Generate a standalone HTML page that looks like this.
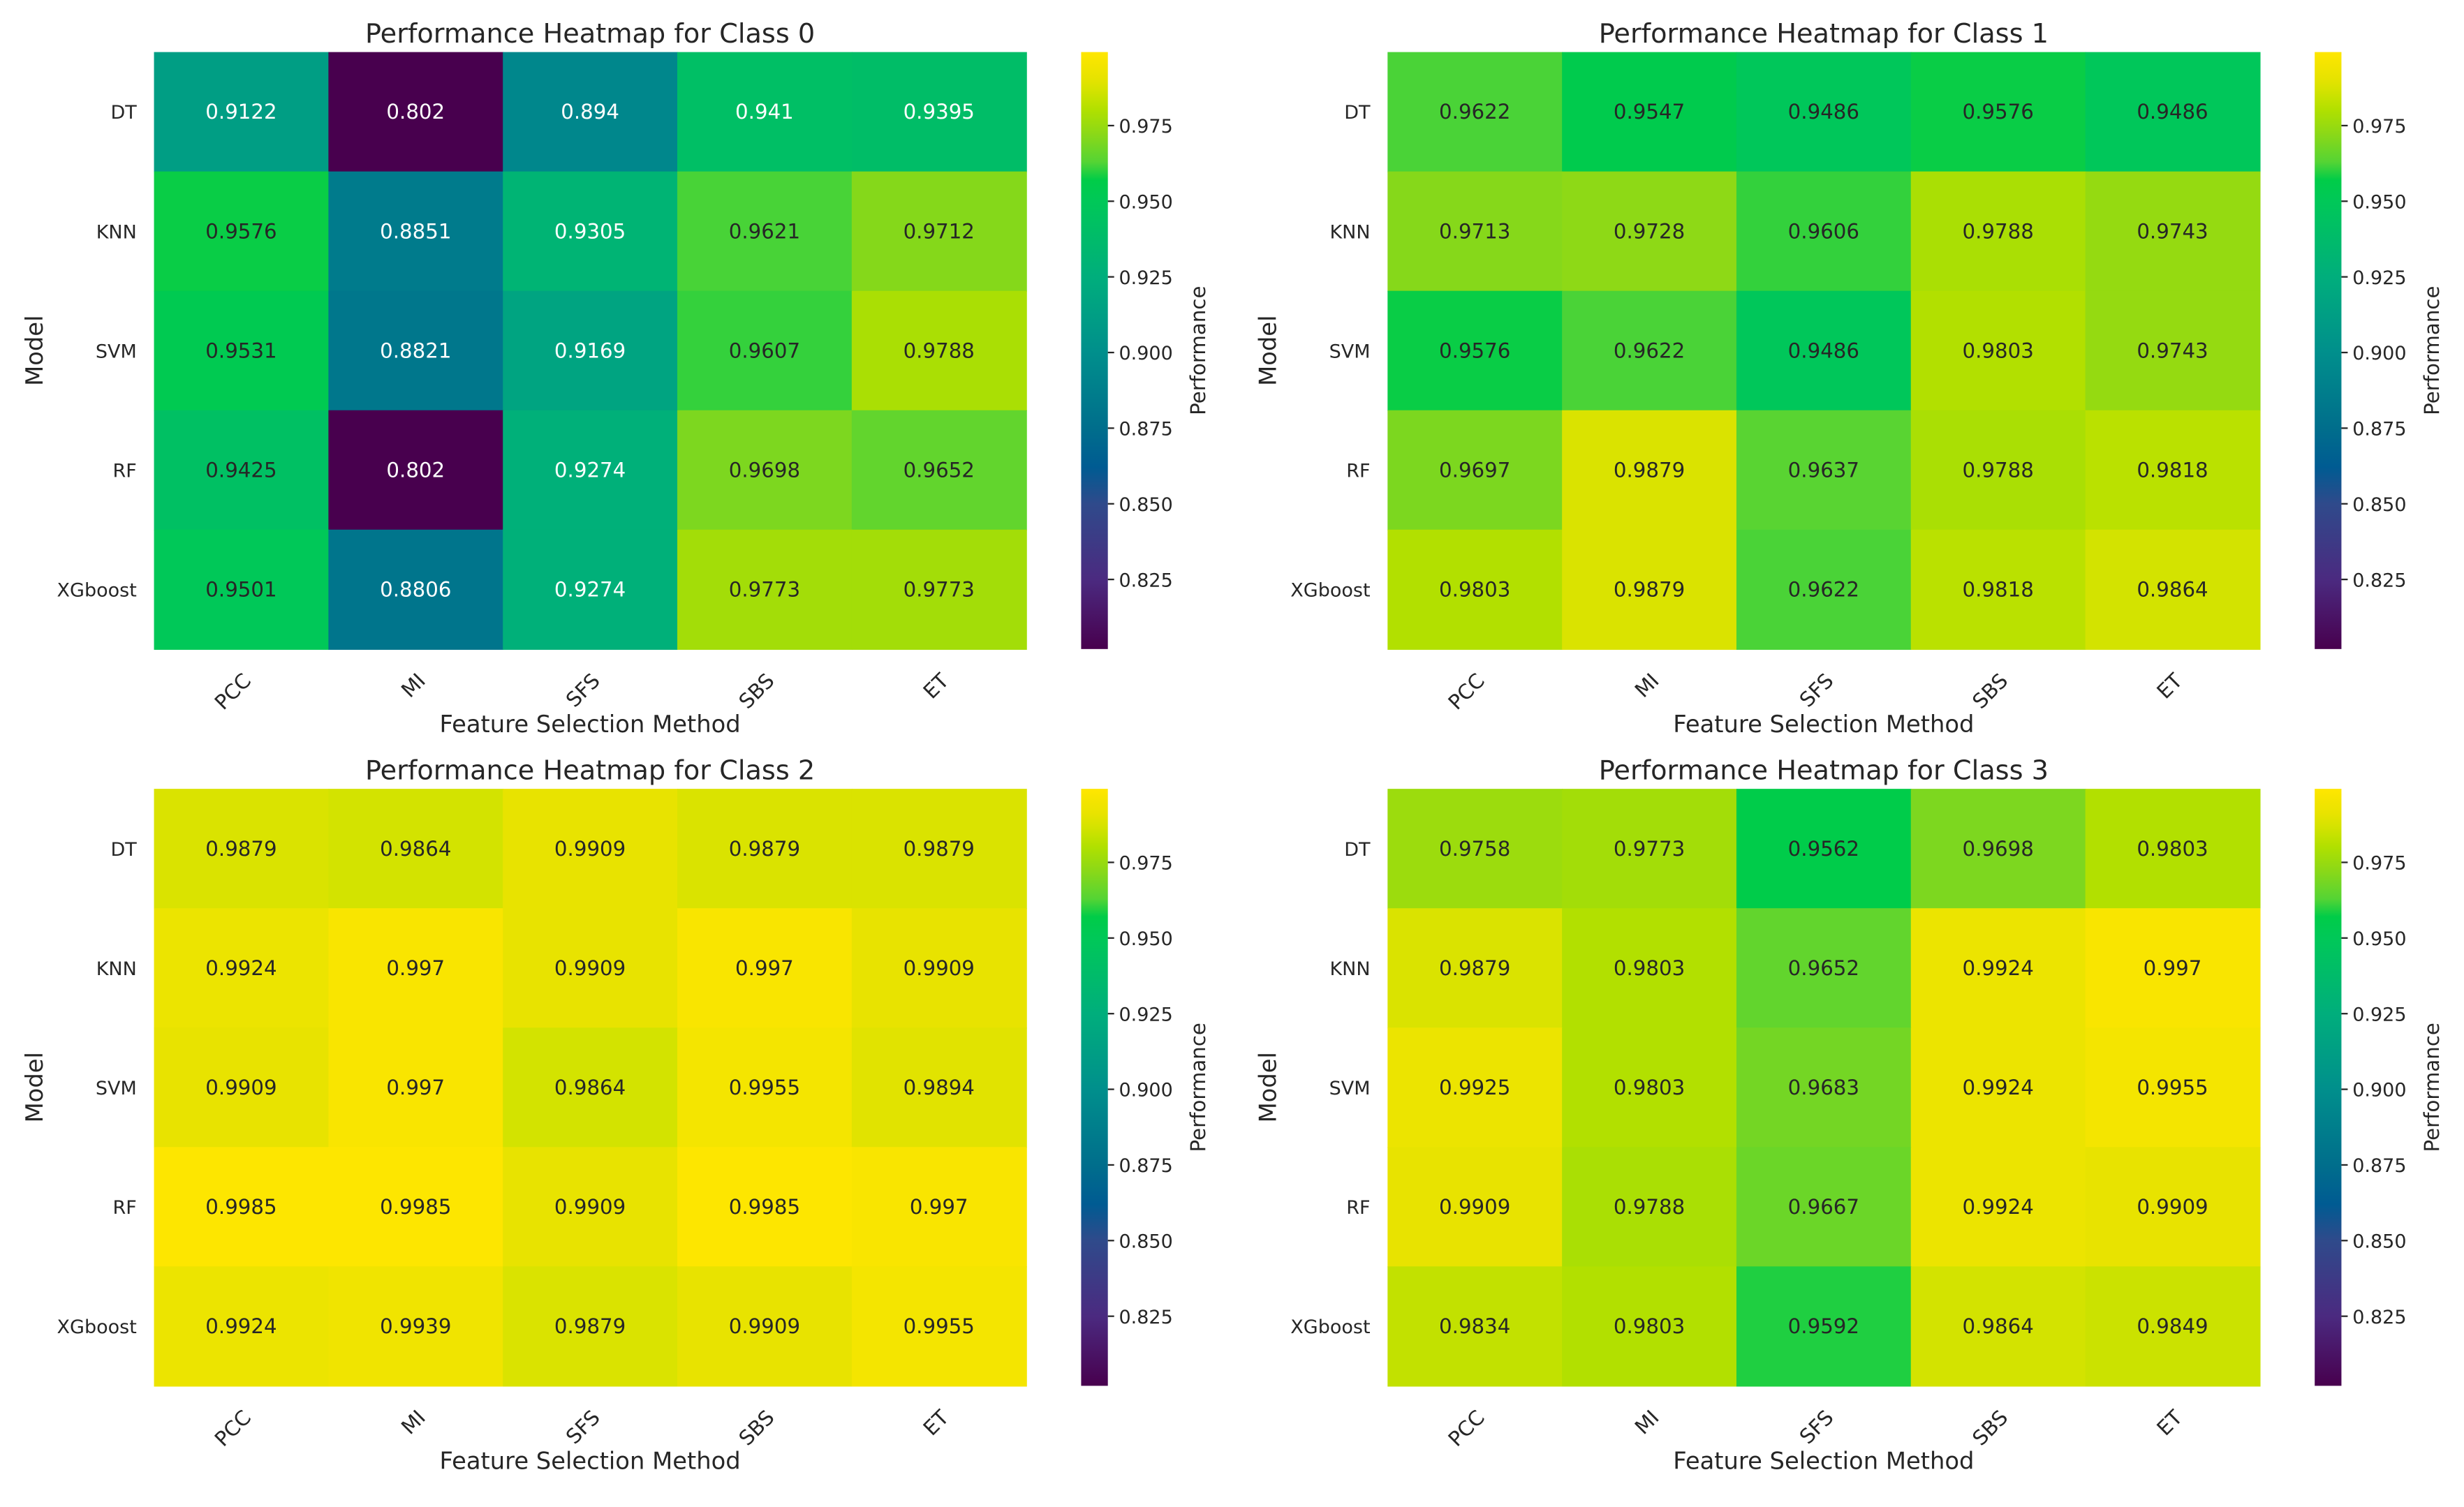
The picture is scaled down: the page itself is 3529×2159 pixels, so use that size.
<!DOCTYPE html>
<html><head><meta charset="utf-8"><style>
html,body{margin:0;padding:0;background:#fff;}
svg{display:block;font-family:"DejaVu Sans","Liberation Sans",sans-serif;}
</style></head><body>
<svg id="fig" width="3529" height="2159" viewBox="0 0 1568 959" xmlns="http://www.w3.org/2000/svg">
<defs id="defs"></defs>
</svg>
<script>
const models = ["DT","KNN","SVM","RF","XGboost"];
const methods = ["PCC","MI","SFS","SBS","ET"];
const class0 = [[0.9122,0.802,0.894,0.941,0.9395],[0.9576,0.8851,0.9305,0.9621,0.9712],[0.9531,0.8821,0.9169,0.9607,0.9788],[0.9425,0.802,0.9274,0.9698,0.9652],[0.9501,0.8806,0.9274,0.9773,0.9773]];
const class1 = [[0.9622,0.9547,0.9486,0.9576,0.9486],[0.9713,0.9728,0.9606,0.9788,0.9743],[0.9576,0.9622,0.9486,0.9803,0.9743],[0.9697,0.9879,0.9637,0.9788,0.9818],[0.9803,0.9879,0.9622,0.9818,0.9864]];
const class2 = [[0.9879,0.9864,0.9909,0.9879,0.9879],[0.9924,0.997,0.9909,0.997,0.9909],[0.9909,0.997,0.9864,0.9955,0.9894],[0.9985,0.9985,0.9909,0.9985,0.997],[0.9924,0.9939,0.9879,0.9909,0.9955]];
const class3 = [[0.9758,0.9773,0.9562,0.9698,0.9803],[0.9879,0.9803,0.9652,0.9924,0.997],[0.9925,0.9803,0.9683,0.9924,0.9955],[0.9909,0.9788,0.9667,0.9924,0.9909],[0.9834,0.9803,0.9592,0.9864,0.9849]];
const classTitles = ["Performance Heatmap for Class 0","Performance Heatmap for Class 1","Performance Heatmap for Class 2","Performance Heatmap for Class 3"];
const cbarTicks = [0.975,0.95,0.925,0.9,0.875,0.85,0.825];
const cbarTickLabels = ["0.975","0.950","0.925","0.900","0.875","0.850","0.825"];
const vmin = 0.802, vmax = 0.9993;

const stopV = [0.802,0.825,0.85,0.862,0.875,0.9,0.925,0.95,0.957,0.963,0.972,0.98,0.987,0.991,0.9993];
const stopC = ["#48004e","#4b2a80","#2f4a8b","#005b92","#006e8c","#008f8c","#00ae7c","#00c858","#00cc48","#55d434","#8ad818","#b0e000","#d6e300","#e8e300","#ffe600"];
function hex(c){return [1,3,5].map(i=>parseInt(c.substr(i,2),16));}
function color(v){
  if(v<=stopV[0]) return stopC[0];
  for(let i=1;i<stopV.length;i++){
    if(v<=stopV[i]){const t=(v-stopV[i-1])/(stopV[i]-stopV[i-1]);const a=hex(stopC[i-1]),b=hex(stopC[i]);
      return "rgb("+a.map((x,k)=>Math.round(x+(b[k]-x)*t)).join(",")+")";}
  }
  return stopC[stopC.length-1];
}
const NS="http://www.w3.org/2000/svg";
const svg=document.getElementById("fig");
function el(tag,attrs,parent,text){const e=document.createElementNS(NS,tag);for(const k in attrs)e.setAttribute(k,attrs[k]);if(text!==undefined)e.textContent=text;(parent||svg).appendChild(e);return e;}

const defs=document.getElementById("defs");
const grad=el("linearGradient",{id:"cg",x1:"0",y1:"1",x2:"0",y2:"0"},defs);
stopV.forEach((v,i)=>{el("stop",{offset:((v-vmin)/(vmax-vmin)).toFixed(4),"stop-color":stopC[i]},grad);});

const panels=[{x:98,y:33,d:class0},{x:883,y:33,d:class1},{x:98,y:502,d:class2},{x:883,y:502,d:class3}];
const W=555,H=380;
panels.forEach((p,pi)=>{
  const g=el("g",{},svg);
  
  
  const cw=W/methods.length, ch=H/models.length;
  const xs=j=>p.x+j*cw, ys=i=>p.y+i*ch;
  p.d.forEach((row,i)=>row.forEach((v,j)=>{
    const r=el("rect",{x:xs(j),y:ys(i),width:cw+0.5,height:ch+0.5,fill:color(v)},g);
    
    
    const t=el("text",{x:xs(j)+cw/2,y:ys(i)+ch/2+4.5,"text-anchor":"middle","font-size":13,fill:v>0.942?"#262626":"#ffffff"},g,String(v));
    
    
  }));
  models.forEach((m,i)=>{
    const t=el("text",{x:p.x-11,y:ys(i)+ch/2+4.5,"text-anchor":"end","font-size":12,fill:"#262626"},g,m);
    
    
  });
  methods.forEach((m,j)=>{
    const cx=xs(j)+cw/2+7, cy=p.y+H+21;
    const t=el("text",{x:cx,y:cy,"text-anchor":"end","font-size":13,fill:"#262626",transform:"rotate(-45 "+cx+" "+cy+")"},g,m);
    
    
  });
  const tt=el("text",{x:p.x+W/2,y:p.y-6,"text-anchor":"middle","font-size":17,fill:"#262626"},g,classTitles[pi]);
  
  
  const xl=el("text",{x:p.x+W/2,y:p.y+H+53,"text-anchor":"middle","font-size":15,fill:"#262626"},g,"Feature Selection Method");
  
  
  const yx=p.x-71, yy=p.y+H/2;
  const yl=el("text",{x:yx,y:yy,"text-anchor":"middle","font-size":15,fill:"#262626",transform:"rotate(-90 "+yx+" "+yy+")"},g,"Model");
  
  
  const cbx=p.x+590, cbw=17;
  const cb=el("rect",{x:cbx,y:p.y,width:cbw,height:H,fill:"url(#cg)"},g);
  
  
  const cy=v=>p.y+H-(v-vmin)/(vmax-vmin)*H;
  cbarTicks.forEach((v,k)=>{
    el("line",{x1:cbx+cbw,x2:cbx+cbw+4,y1:cy(v),y2:cy(v),stroke:"#262626","stroke-width":1},g);
    const t=el("text",{x:cbx+cbw+7,y:cy(v)+4.5,"font-size":12,fill:"#262626"},g,cbarTickLabels[k]);
    
    
  });
  const px=cbx+79, py=p.y+H/2;
  const pl=el("text",{x:px,y:py,"text-anchor":"middle","font-size":13,fill:"#262626",transform:"rotate(-90 "+px+" "+py+")"},g,"Performance");
  
  
});
</script>
</body></html>
